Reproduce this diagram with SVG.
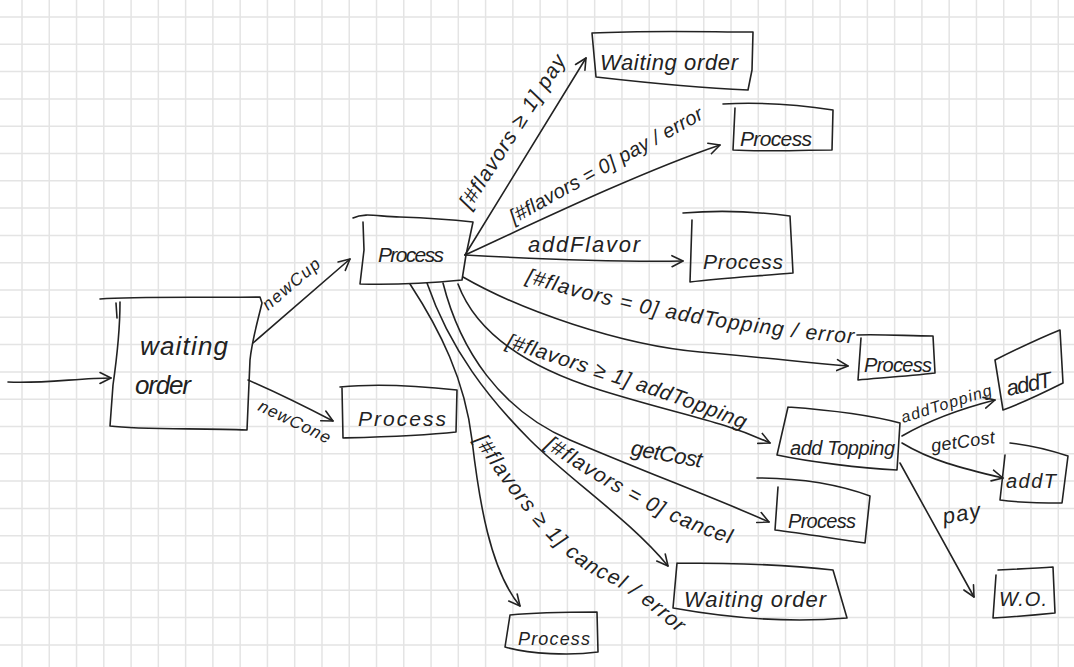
<svg xmlns="http://www.w3.org/2000/svg" width="1074" height="667" viewBox="0 0 1074 667">
  <style>
    .grid { fill: none; stroke: #e4e4e4; stroke-width: 1.5; }
    .box { fill: none; stroke: #222; stroke-width: 1.6; stroke-linejoin: round; stroke-linecap: round; }
    .edge { fill: none; stroke: #222; stroke-width: 1.6; stroke-linecap: round; marker-end: url(#arr); }
    .hw { font-family: "Liberation Sans", "DejaVu Sans", sans-serif; font-style: italic; fill: #222; }
    .node { font-size: 21px; }
    .lbl { font-size: 20px; }
    .sm { font-size: 16px; }
  </style>
  <defs>
    <marker id="arr" viewBox="0 0 14 14" refX="12" refY="7" markerWidth="14" markerHeight="14" markerUnits="userSpaceOnUse" orient="auto">
      <path d="M1,1.5 L12,7 L1,12.5" fill="none" stroke="#222" stroke-width="1.6" stroke-linecap="round" stroke-linejoin="round"/>
    </marker>
    <!-- baselines for the slanted transition labels -->
    <path id="p-pay" d="M470,210 L570,55"/>
    <path id="p-payerr" d="M514,224 L712,114"/>
    <path id="p-newcup" d="M268,311 L326,262"/>
    <path id="p-newcone" d="M257,410 L332,446"/>
    <path id="p-toperr" d="M525,282 C 590,302 640,314 700,324 S 810,340 862,344"/>
    <path id="p-top" d="M505,347 C 580,372 680,402 755,434"/>
    <path id="p-cancel" d="M544,447 C 602,487 680,532 742,547"/>
    <path id="p-cancelerr" d="M474,440 C 512,500 560,560 600,578 S 660,620 690,642"/>
    <path id="p-addt" d="M903,423 L998,393"/>
  </defs>

  <!-- squared paper -->
  <rect width="1074" height="667" fill="#fff"/>
  <path class="grid" d="M22,0V667M49.27,0V667M76.54,0V667M103.81,0V667M131.08,0V667M158.35,0V667M185.62,0V667M212.89,0V667M240.16,0V667M267.43,0V667M294.7,0V667M321.97,0V667M349.24,0V667M376.51,0V667M403.78,0V667M431.05,0V667M458.32,0V667M485.59,0V667M512.86,0V667M540.13,0V667M567.4,0V667M594.67,0V667M621.94,0V667M649.21,0V667M676.48,0V667M703.75,0V667M731.02,0V667M758.29,0V667M785.56,0V667M812.83,0V667M840.1,0V667M867.37,0V667M894.64,0V667M921.91,0V667M949.18,0V667M976.45,0V667M1003.72,0V667M1030.99,0V667M1058.26,0V667
    M0,17H1074M0,44.3H1074M0,71.6H1074M0,98.9H1074M0,126.2H1074M0,153.5H1074M0,180.8H1074M0,208.1H1074M0,235.4H1074M0,262.7H1074M0,290H1074M0,317.3H1074M0,344.6H1074M0,371.9H1074M0,399.2H1074M0,426.5H1074M0,453.8H1074M0,481.1H1074M0,508.4H1074M0,535.7H1074M0,563H1074M0,590.3H1074M0,617.6H1074M0,644.9H1074"/>

  <!-- transitions -->
  <g id="connectors">
    <path class="edge" d="M8,382 C 40,384 80,378 111,378"/>
    <path class="edge" d="M253,343 L350,259"/>
    <path class="edge" d="M248,380 Q 285,396 333,421"/>
    <path class="edge" d="M465,255 L586,58"/>
    <path class="edge" d="M465,255 C 530,225 640,172 720,145"/>
    <path class="edge" d="M465,255 C 520,258 620,262 683,261"/>
    <path class="edge" d="M463,277 C 520,310 620,345 700,352 S 800,362 848,366"/>
    <path class="edge" d="M458,284 C 475,330 520,365 600,390 S 720,420 770,443"/>
    <path class="edge" d="M443,283 C 460,350 500,410 570,440 S 720,500 769,522"/>
    <path class="edge" d="M427,283 C 450,350 490,400 530,440 S 630,520 668,566"/>
    <path class="edge" d="M410,284 C 440,330 465,380 472,440 S 490,570 520,606"/>
    <path class="edge" d="M902,436 Q 940,414 995,400"/>
    <path class="edge" d="M902,443 C 930,460 960,468 1003,478"/>
    <path class="edge" d="M900,463 L974,597"/>

    <text class="hw" font-size="17"><textPath href="#p-newcup" textLength="70">newCup</textPath></text>
    <text class="hw" font-size="17"><textPath href="#p-newcone" textLength="78">newCone</textPath></text>
    <text class="hw" font-size="21"><textPath href="#p-pay" textLength="178">[#flavors ≥ 1] pay</textPath></text>
    <text class="hw lbl"><textPath href="#p-payerr" textLength="218">[#flavors = 0] pay / error</textPath></text>
    <text class="hw" font-size="22" x="528" y="252" textLength="112">addFlavor</text>
    <text class="hw" font-size="21"><textPath href="#p-toperr" textLength="335">[#flavors = 0] addTopping / error</textPath></text>
    <text class="hw" font-size="21"><textPath href="#p-top" textLength="252">[#flavors ≥ 1] addTopping</textPath></text>
    <text class="hw" font-size="22" x="630" y="455" textLength="72" transform="rotate(10 630 455)">getCost</text>
    <text class="hw" font-size="21"><textPath href="#p-cancel" textLength="210">[#flavors = 0] cancel</textPath></text>
    <text class="hw" font-size="21"><textPath href="#p-cancelerr" textLength="285">[#flavors ≥ 1] cancel / error</textPath></text>
    <text class="hw sm"><textPath href="#p-addt" textLength="94">addTopping</textPath></text>
    <text class="hw" font-size="18" x="932" y="452" textLength="64" transform="rotate(-8 932 452)">getCost</text>
    <text class="hw" font-size="22" x="944" y="524" textLength="38" transform="rotate(-10 944 524)">pay</text>
  </g>

  <!-- states -->
  <g id="waiting-order-start">
    <path class="box" d="M100,299 C 140,296 220,298 260,297 L262,303 C 258,320 252,340 250,360 L247,430 C 200,428 140,430 110,426 L113,385 C 118,350 120,330 120,302"/>
    <path class="box" d="M116,303 L117,318"/>
    <text class="hw" font-size="26" x="140" y="355" textLength="88">waiting</text>
    <text class="hw" font-size="26" x="135" y="394" textLength="56">order</text>
  </g>
  <g id="process-main">
    <path class="box" d="M353,218 C 365,212 380,217 400,217 C 430,218 455,220 473,222 L466,255 L462,280 C 430,283 390,285 360,284 L364,250 L363,222"/>
    <text class="hw node" x="378" y="262" textLength="66">Process</text>
  </g>
  <g id="process-cone">
    <path class="box" d="M340,387 C 380,383 420,386 457,390 L456,432 C 420,436 380,437 343,438 L342,388"/>
    <text class="hw node" x="358" y="426" textLength="88">Process</text>
  </g>
  <g id="waiting-order-pay">
    <path class="box" d="M592,33 C 650,30 710,32 753,32 L752,70 L748,90 C 700,88 640,82 596,77 L592,33"/>
    <text class="hw" font-size="22" x="600" y="70" textLength="138">Waiting order</text>
  </g>
  <g id="process-pay-error">
    <path class="box" d="M723,104 C 760,102 800,105 833,110 L832,150 C 800,150 760,152 733,150 L735,108"/>
    <text class="hw node" x="740" y="146" textLength="72">Process</text>
  </g>
  <g id="process-add-flavor">
    <path class="box" d="M683,213 C 720,210 760,212 790,216 L793,273 C 760,276 720,278 690,282 L692,220"/>
    <text class="hw node" x="703" y="269" textLength="80">Process</text>
  </g>
  <g id="process-topping-error">
    <path class="box" d="M857,335 C 880,334 910,336 933,336 L935,373 C 910,376 880,378 858,380 L861,338"/>
    <text class="hw" font-size="20" x="864" y="372" textLength="68">Process</text>
  </g>
  <g id="add-topping">
    <path class="box" d="M788,407 C 830,410 870,415 900,423 L897,470 C 860,468 810,462 777,455 L788,407"/>
    <text class="hw" font-size="20" x="790" y="455" textLength="105">add Topping</text>
  </g>
  <g id="process-get-cost">
    <path class="box" d="M757,478 C 800,478 840,485 870,496 L865,543 C 830,538 800,533 775,530 L778,487"/>
    <text class="hw" font-size="20" x="788" y="528" textLength="68">Process</text>
  </g>
  <g id="waiting-order-cancel">
    <path class="box" d="M677,563 C 730,563 790,565 833,570 L847,618 C 800,622 740,620 673,608 L677,563"/>
    <text class="hw" font-size="22" x="684" y="607" textLength="142">Waiting order</text>
  </g>
  <g id="process-cancel-error">
    <path class="box" d="M510,615 C 540,612 570,612 597,612 L598,652 C 570,656 530,654 505,647 L510,615"/>
    <text class="hw" font-size="18" x="518" y="645" textLength="72">Process</text>
  </g>
  <g id="add-t-topping">
    <path class="box" d="M995,360 C 1015,350 1040,338 1060,330 L1063,383 C 1045,392 1025,402 1003,410 L995,360"/>
    <text class="hw" font-size="22" x="1008" y="396" textLength="46" transform="rotate(-12 1008 396)">addT</text>
  </g>
  <g id="add-t-cost">
    <path class="box" d="M1010,443 C 1030,445 1050,450 1068,456 L1062,503 C 1040,503 1020,503 1000,500 L1005,455"/>
    <text class="hw" font-size="20" x="1006" y="488" textLength="50">addT</text>
  </g>
  <g id="waiting-order-short">
    <path class="box" d="M998,570 C 1020,569 1040,568 1053,567 L1055,613 C 1035,615 1010,617 993,618 L996,575"/>
    <text class="hw" font-size="20" x="999" y="606" textLength="48">W.O.</text>
  </g>
</svg>
